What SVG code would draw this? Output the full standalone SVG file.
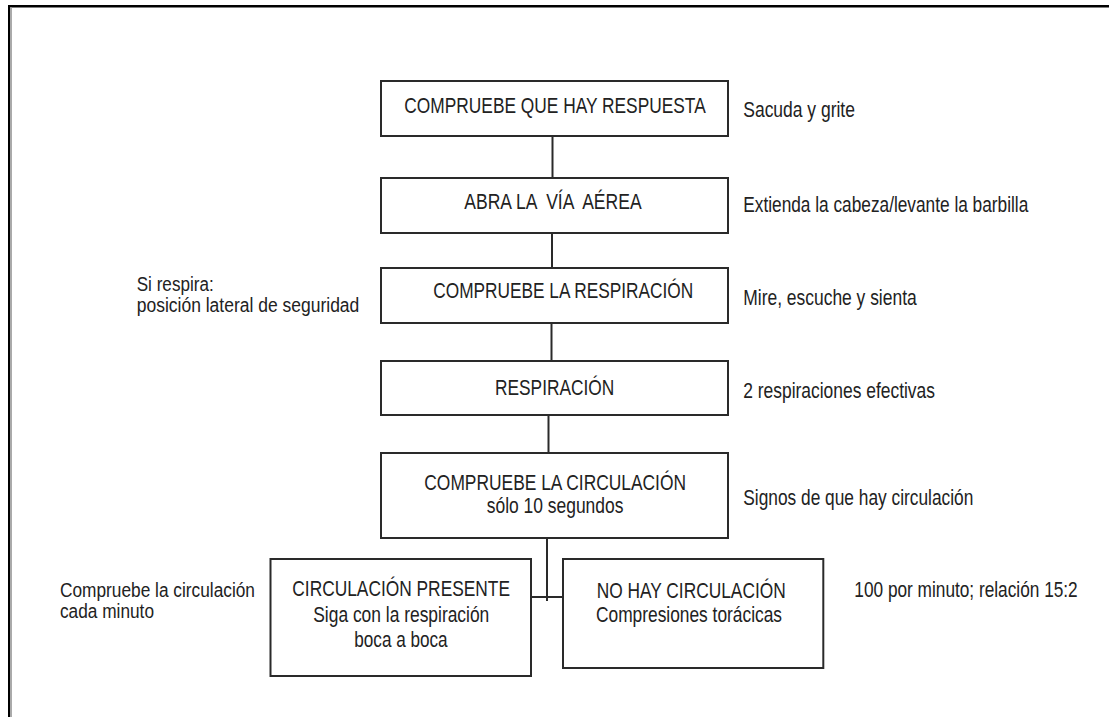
<svg xmlns="http://www.w3.org/2000/svg" width="1109" height="717" viewBox="0 0 1109 717">
<style>
.bx{fill:#fff;stroke:#2a2a2a;stroke-width:2}
.cn{fill:none;stroke:#2a2a2a;stroke-width:2}
text{font-family:"Liberation Sans",Arial,sans-serif;font-size:22px;fill:#222}
text.tight{font-size:20px}
</style>
<rect width="1109" height="717" fill="#fff"/>
<g id="frame">
<rect x="8" y="5" width="1101" height="2.5" fill="#000"/>
<rect x="8" y="5" width="2" height="712" fill="#000"/>
<rect x="10" y="7.5" width="2" height="710" fill="#aaa"/>
</g>
<g id="connectors">
<line class="cn" x1="552.5" y1="136" x2="552.5" y2="178"/>
<line class="cn" x1="552" y1="233" x2="552" y2="268"/>
<line class="cn" x1="551.5" y1="323" x2="551.5" y2="361"/>
<line class="cn" x1="548.5" y1="415" x2="548.5" y2="453"/>
<line class="cn" x1="547" y1="538" x2="547" y2="601"/>
<line class="cn" x1="531" y1="597" x2="563" y2="597"/>
</g>
<g id="n1">
<rect class="bx" x="381" y="81" width="347" height="55"/>
<text transform="scale(0.8,1)" x="505.4" y="112.7" textLength="376.75" lengthAdjust="spacingAndGlyphs">COMPRUEBE QUE HAY RESPUESTA</text>
</g>
<g id="n2">
<rect class="bx" x="381" y="178" width="347" height="55"/>
<text transform="scale(0.8,1)" x="580.4" y="209.3" textLength="221.6" lengthAdjust="spacingAndGlyphs" xml:space="preserve">ABRA LA  VÍA  AÉREA</text>
</g>
<g id="n3">
<rect class="bx" x="381" y="268" width="347" height="55"/>
<text transform="scale(0.8,1)" x="541.6" y="298.3" textLength="325" lengthAdjust="spacingAndGlyphs">COMPRUEBE LA RESPIRACIÓN</text>
</g>
<g id="n4">
<rect class="bx" x="381" y="361" width="347" height="54"/>
<text transform="scale(0.8,1)" x="618.75" y="395" textLength="149.1" lengthAdjust="spacingAndGlyphs">RESPIRACIÓN</text>
</g>
<g id="n5">
<rect class="bx" x="381" y="453" width="347" height="85"/>
<text transform="scale(0.8,1)" x="530.4" y="490" textLength="327.1" lengthAdjust="spacingAndGlyphs">COMPRUEBE LA CIRCULACIÓN</text>
<text transform="scale(0.8,1)" x="608.4" y="512.7" textLength="170.9" lengthAdjust="spacingAndGlyphs">sólo 10 segundos</text>
</g>
<g id="n6">
<rect class="bx" x="270.5" y="559" width="260.5" height="117"/>
<text transform="scale(0.8,1)" x="365.4" y="596" textLength="272.1" lengthAdjust="spacingAndGlyphs">CIRCULACIÓN PRESENTE</text>
<text transform="scale(0.8,1)" x="391.6" y="621.7" textLength="220" lengthAdjust="spacingAndGlyphs">Siga con la respiración</text>
<text transform="scale(0.8,1)" x="442.9" y="647" textLength="116.6" lengthAdjust="spacingAndGlyphs">boca a boca</text>
</g>
<g id="n7">
<rect class="bx" x="563" y="559" width="260.3" height="109"/>
<text transform="scale(0.8,1)" x="745.9" y="598.3" textLength="236.25" lengthAdjust="spacingAndGlyphs">NO HAY CIRCULACIÓN</text>
<text transform="scale(0.8,1)" x="745" y="621.7" textLength="232.5" lengthAdjust="spacingAndGlyphs">Compresiones torácicas</text>
</g>
<g id="notes">
<text transform="scale(0.8,1)" x="929.1" y="116.7" textLength="139.6" lengthAdjust="spacingAndGlyphs">Sacuda y grite</text>
<text transform="scale(0.8,1)" x="929.1" y="211.7" textLength="356.25" lengthAdjust="spacingAndGlyphs">Extienda la cabeza/levante la barbilla</text>
<text transform="scale(0.8,1)" x="929.1" y="305" textLength="216.75" lengthAdjust="spacingAndGlyphs">Mire, escuche y sienta</text>
<text transform="scale(0.8,1)" x="929.1" y="398.3" textLength="239.6" lengthAdjust="spacingAndGlyphs">2 respiraciones efectivas</text>
<text transform="scale(0.8,1)" x="929.1" y="505" textLength="287.5" lengthAdjust="spacingAndGlyphs">Signos de que hay circulación</text>
<text transform="scale(0.8,1)" x="1067.9" y="596.7" textLength="279.25" lengthAdjust="spacingAndGlyphs">100 por minuto; relación 15:2</text>
<text class="tight" transform="scale(0.8,1)" x="170.9" y="290.7" textLength="96.25" lengthAdjust="spacingAndGlyphs">Si respira:</text>
<text class="tight" transform="scale(0.8,1)" x="170.9" y="311.7" textLength="278.25" lengthAdjust="spacingAndGlyphs">posición lateral de seguridad</text>
<text class="tight" transform="scale(0.8,1)" x="75" y="597" textLength="243.75" lengthAdjust="spacingAndGlyphs">Compruebe la circulación</text>
<text class="tight" transform="scale(0.8,1)" x="75" y="618.3" textLength="117.5" lengthAdjust="spacingAndGlyphs">cada minuto</text>
</g>
</svg>
